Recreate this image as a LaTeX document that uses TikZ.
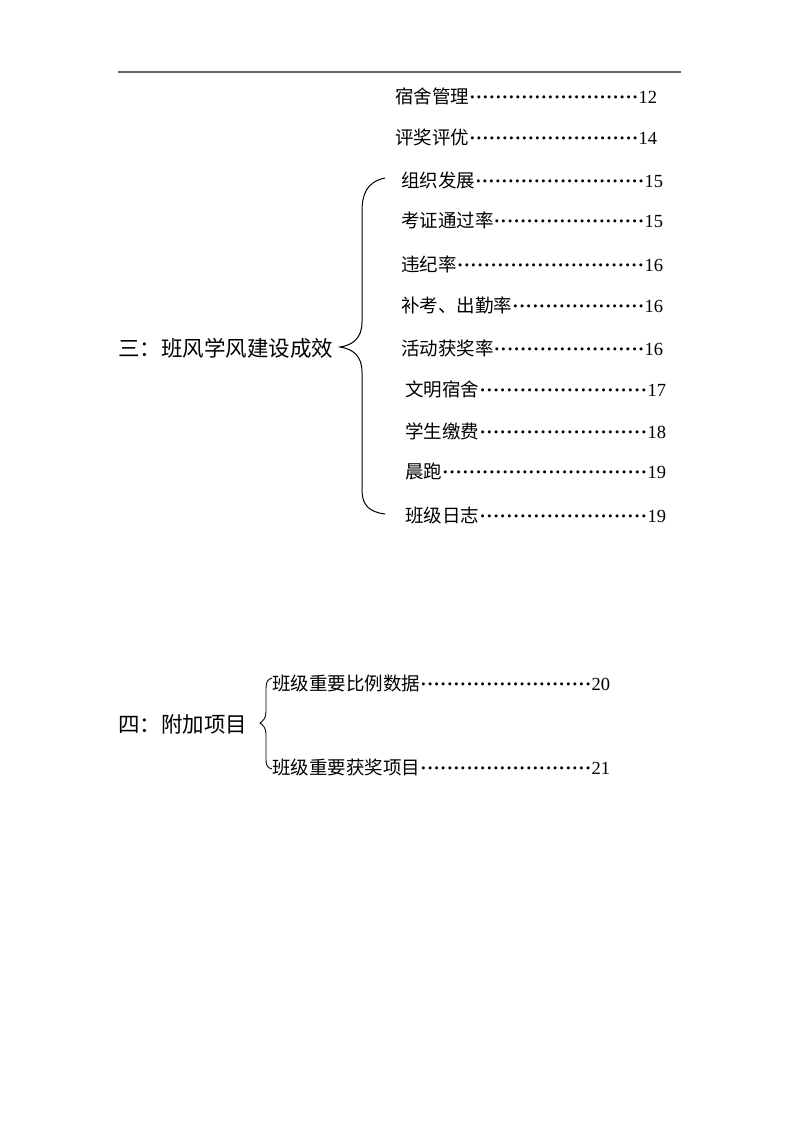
\documentclass[tikz,border=0pt]{standalone}
\usepackage{fontspec}
\setmainfont{Liberation Serif}
\newfontfamily\cjk{Noto Sans CJK SC}
\newcommand{\leaderdots}{\xleaders\hbox to 6.5pt{\hss\textbf{·}\hss}\hfill}
\newcommand{\tocline}[3]{\hbox to #1{{\cjk #2}\leaderdots #3}}

\begin{document}
\begin{tikzpicture}[x=1pt,y=-1pt,
        entry/.style={anchor=west, inner sep=0pt, font=\fontsize{18.5}{22}\selectfont},
        title/.style={anchor=west, inner sep=0pt, font=\fontsize{21.5}{24}\selectfont\cjk},
        brace/.style={draw=black, line width=1pt}]
                    \useasboundingbox (0,0) rectangle (800,1132);
                    \draw[black!60, line width=2pt] (118,72) -- (681,72);
                    % continued entries
                    \node[entry] (sushe) at (395,96) {\tocline{262pt}{宿舍管理}{12}};
                    \node[entry] (pingjiang) at (395,137) {\tocline{262pt}{评奖评优}{14}};
                    % section three
                    \node[title] (sec3) at (118,348) {三：班风学风建设成效};
                    \node[entry] (zuzhi) at (401,180) {\tocline{262pt}{组织发展}{15}};
                    \node[entry] (kaozheng) at (401,220) {\tocline{262pt}{考证通过率}{15}};
                    \node[entry] (weiji) at (401,264) {\tocline{262pt}{违纪率}{16}};
                    \node[entry] (bukao) at (401,305) {\tocline{262pt}{补考、出勤率}{16}};
                    \node[entry] (huodong) at (401,348) {\tocline{262pt}{活动获奖率}{16}};
                    \node[entry] (wenming) at (405,389) {\tocline{261pt}{文明宿舍}{17}};
                    \node[entry] (jiaofei) at (405,431) {\tocline{261pt}{学生缴费}{18}};
                    \node[entry] (chenpao) at (405,472) {\tocline{261pt}{晨跑}{19}};
                    \node[entry] (rizhi) at (405,515) {\tocline{261pt}{班级日志}{19}};
                    \coordinate (b3top) at (385,178);
                    \coordinate (b3tip) at (340,347);
                    \coordinate (b3bot) at (385,514);
                    \draw[brace] (b3top) .. controls (366,182) and (362,195) .. (362,212)
                        -- (362,322) .. controls (362,338) and (353,345) .. (b3tip)
                        .. controls (353,349) and (362,356) .. (362,372)
                        -- (362,490) .. controls (362,505) and (369,512) .. (b3bot);
                    % section four
                    \node[title] (sec4) at (118,724) {四：附加项目};
                    \node[entry] (bili) at (272,683) {\tocline{338pt}{班级重要比例数据}{20}};
                    \node[entry] (huojiang) at (272,767) {\tocline{338pt}{班级重要获奖项目}{21}};
                    \coordinate (b4top) at (272,678);
                    \coordinate (b4tip) at (260,723);
                    \coordinate (b4bot) at (272,769);
                    \draw[brace, line width=0.9pt] (b4top) .. controls (268,679) and (266,682) .. (266,688)
                        -- (266,712) .. controls (266,718) and (263,721) .. (b4tip)
                        .. controls (263,725) and (266,728) .. (266,734)
                        -- (266,760) .. controls (266,766) and (268,768) .. (b4bot);
                \end{tikzpicture}
\end{document}
